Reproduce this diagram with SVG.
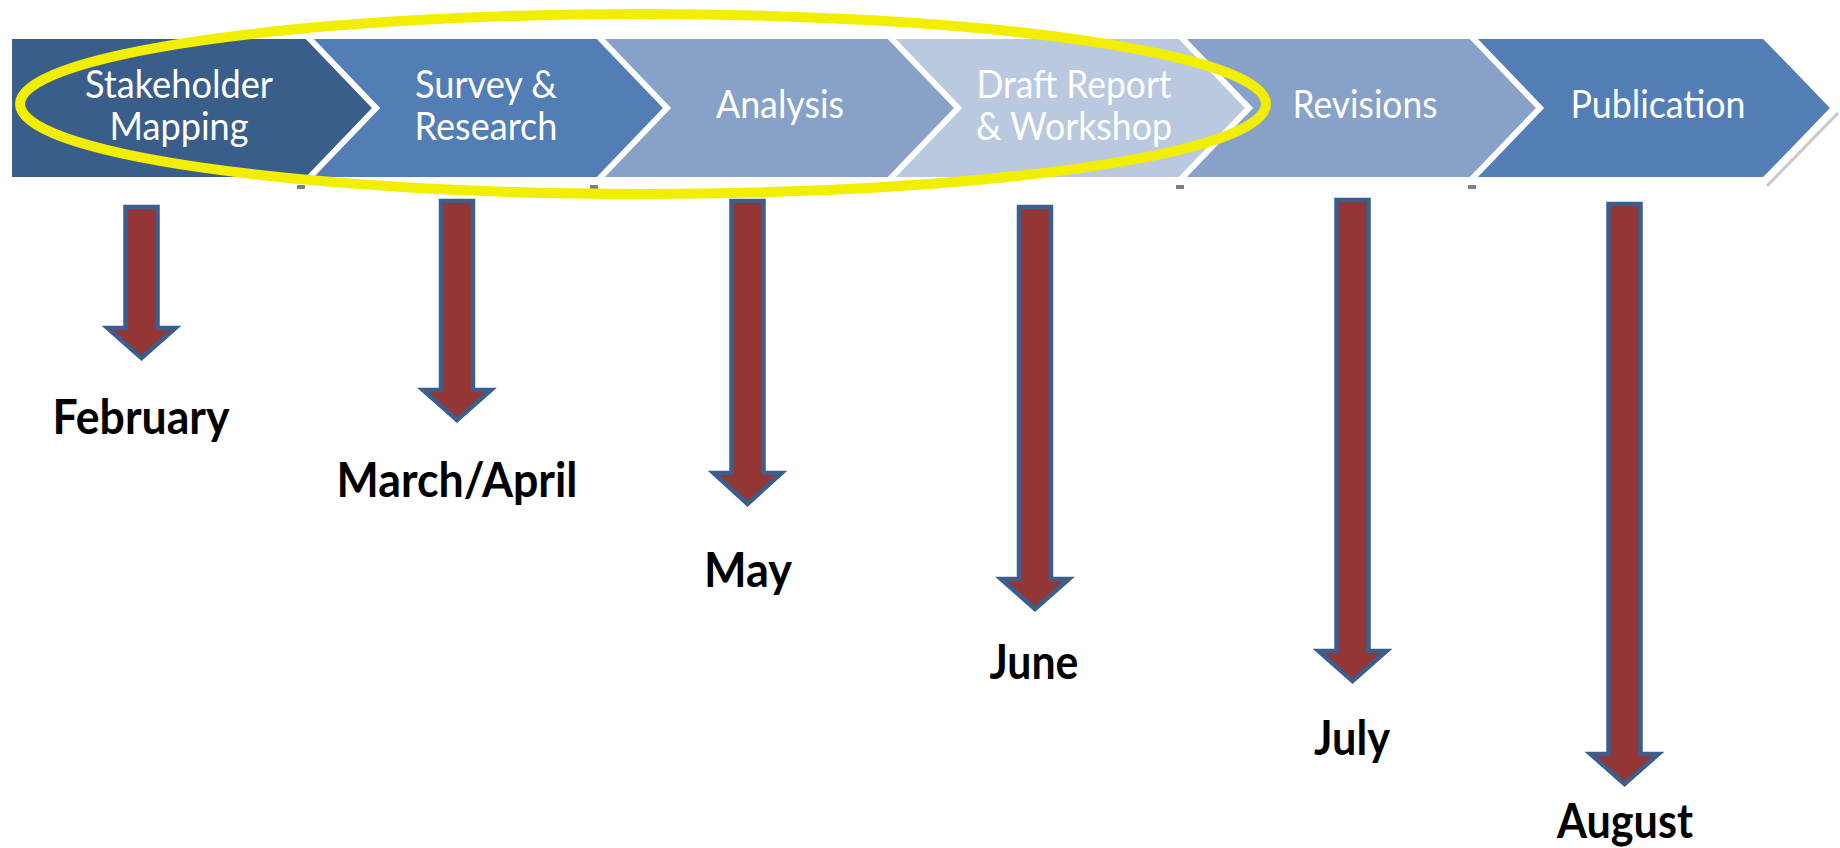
<svg xmlns="http://www.w3.org/2000/svg" width="1840" height="848" viewBox="0 0 1840 848">
<style>
.sep{fill:none;stroke:#ffffff;stroke-width:6;stroke-linejoin:miter}
.st{font-family:Lato,"Open Sans","Liberation Sans",sans-serif;font-size:38px;fill:#ffffff;text-anchor:middle}
.lbl{font-family:Lato,"Liberation Sans",sans-serif;font-size:47px;font-weight:bold;fill:#000000;text-anchor:middle}
.arr{fill:#943634;stroke:#3B5E8C;stroke-width:4.5;stroke-linejoin:miter}
.mark{fill:#7F7F7F}
</style>
<rect width="1840" height="848" fill="#ffffff"/>
<g id="chevrons">
<g id="stage-stakeholder">
<polygon points="12,39 308,39 377,108 308,177 12,177" fill="#3A5E8A"/>
<text class="st" x="179" y="98" textLength="188" lengthAdjust="spacingAndGlyphs">Stakeholder</text>
<text class="st" x="179" y="140" textLength="139" lengthAdjust="spacingAndGlyphs">Mapping</text>
</g>
<g id="stage-survey">
<polygon points="308,39 599,39 668,108 599,177 308,177 377,108" fill="#527DB5"/>
<text class="st" x="486" y="98" textLength="142" lengthAdjust="spacingAndGlyphs">Survey &amp;</text>
<text class="st" x="486" y="140" textLength="143" lengthAdjust="spacingAndGlyphs">Research</text>
</g>
<g id="stage-analysis">
<polygon points="599,39 890,39 959,108 890,177 599,177 668,108" fill="#87A1C9"/>
<text class="st" x="780" y="118" textLength="128" lengthAdjust="spacingAndGlyphs">Analysis</text>
</g>
<g id="stage-draft">
<polygon points="890,39 1181,39 1250,108 1181,177 890,177 959,108" fill="#BAC8E0"/>
<text class="st" x="1074" y="98" textLength="195" lengthAdjust="spacingAndGlyphs">Draft Report</text>
<text class="st" x="1074" y="140" textLength="196" lengthAdjust="spacingAndGlyphs">&amp; Workshop</text>
</g>
<g id="stage-revisions">
<polygon points="1181,39 1472,39 1541,108 1472,177 1181,177 1250,108" fill="#87A1C9"/>
<text class="st" x="1365" y="118" textLength="145" lengthAdjust="spacingAndGlyphs">Revisions</text>
</g>
<g id="stage-publication">
<polygon points="1472,39 1763,39 1832,108 1763,177 1472,177 1541,108" fill="#527DB5"/>
<text class="st" x="1658" y="118" textLength="175" lengthAdjust="spacingAndGlyphs">Publication</text>
</g>
<g id="separators">
<polyline class="sep" points="306,35 376,108 306,181"/>
<polyline class="sep" points="597,35 667,108 597,181"/>
<polyline class="sep" points="888,35 958,108 888,181"/>
<polyline class="sep" points="1179,35 1249,108 1179,181"/>
<polyline class="sep" points="1470,35 1540,108 1470,181"/>
<polyline class="sep" points="1764,35 1834,108 1764,181"/>
<line x1="1767" y1="186" x2="1838" y2="113" stroke="#C8C8C8" stroke-width="3"/>
<rect class="mark" x="297" y="185" width="8" height="4"/>
<rect class="mark" x="590" y="185" width="8" height="4"/>
<rect class="mark" x="883" y="185" width="8" height="4"/>
<rect class="mark" x="1176" y="185" width="8" height="4"/>
<rect class="mark" x="1468" y="185" width="8" height="4"/>
</g>
</g>
<g id="highlight">
<ellipse cx="643" cy="104" rx="623" ry="90" fill="none" stroke="#F2EE00" stroke-width="10"/>
</g>
<g id="connectors">
<polygon class="arr" points="125.5,207 157.5,207 157.5,328 175.5,328 141.5,358 107.5,328 125.5,328"/>
<polygon class="arr" points="441,201 473,201 473,390 491,390 457,420 423,390 441,390"/>
<polygon class="arr" points="731.5,201 763.5,201 763.5,473 781.5,473 747.5,504 713.5,473 731.5,473"/>
<polygon class="arr" points="1019,207 1051,207 1051,579 1069,579 1035,609 1001,579 1019,579"/>
<polygon class="arr" points="1336.5,200 1368.5,200 1368.5,651 1386.5,651 1352.5,681 1318.5,651 1336.5,651"/>
<polygon class="arr" points="1608.5,204 1640.5,204 1640.5,754 1658.5,754 1624.5,784 1590.5,754 1608.5,754"/>
</g>
<g id="label-february"><text class="lbl" x="141" y="434" textLength="177" lengthAdjust="spacingAndGlyphs">February</text></g>
<g id="label-march-april"><text class="lbl" x="457" y="497" textLength="241" lengthAdjust="spacingAndGlyphs">March/April</text></g>
<g id="label-may"><text class="lbl" x="748" y="587" textLength="88" lengthAdjust="spacingAndGlyphs">May</text></g>
<g id="label-june"><text class="lbl" x="1034" y="679" textLength="89" lengthAdjust="spacingAndGlyphs">June</text></g>
<g id="label-july"><text class="lbl" x="1352" y="755" textLength="76" lengthAdjust="spacingAndGlyphs">July</text></g>
<g id="label-august"><text class="lbl" x="1625" y="838" textLength="136" lengthAdjust="spacingAndGlyphs">August</text></g>
</svg>
